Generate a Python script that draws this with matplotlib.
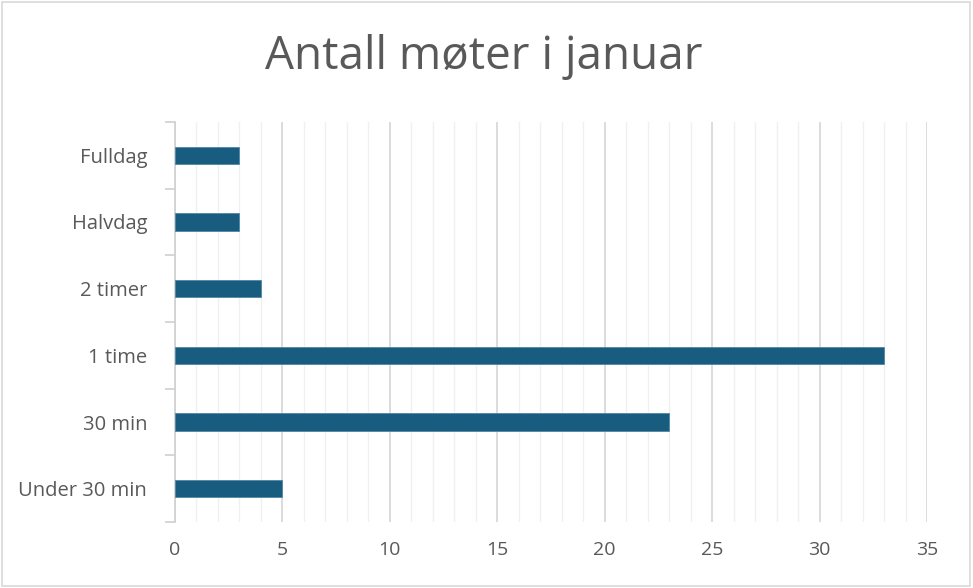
import matplotlib
matplotlib.use("Agg")
import matplotlib.pyplot as plt
from matplotlib.patches import Rectangle
from matplotlib.ticker import MultipleLocator, FixedLocator

categories = ["Under 30 min", "30 min", "1 time", "2 timer", "Halvdag", "Fulldag"]
values = [5, 23, 33, 4, 3, 3]
xticks = [0, 5, 10, 15, 20, 25, 30, 35]

plt.rcParams['font.family'] = ['Open Sans', 'DejaVu Sans']
fig = plt.figure(figsize=(9.73, 5.88), dpi=100)
ax = fig.add_axes([175/973, 1-522/588, (927-175)/973, (522-122)/588])

y = list(range(len(categories)))
ax.barh(y, values, height=0.26, color="#185d80", edgecolor="#4f87a5", linewidth=0.6, zorder=3)

ax.set_xlim(0, 35)
ax.set_ylim(-0.5, len(categories)-0.5)
ax.xaxis.set_major_locator(FixedLocator(xticks))
ax.xaxis.set_minor_locator(MultipleLocator(1))
ax.grid(axis='x', which='major', color="#d9d9d9", linewidth=1.3, zorder=0)
ax.grid(axis='x', which='minor', color="#f0f0f0", linewidth=1.0, zorder=0)
ax.tick_params(axis='x', which='both', length=0, labelsize=14, labelcolor="#595959", pad=14)

ax.set_yticks(y)
ax.set_yticklabels(categories)
ax.yaxis.set_minor_locator(FixedLocator([i - 0.5 for i in range(len(categories)+1)]))
ax.tick_params(axis='y', which='major', length=0, labelsize=14.5, labelcolor="#595959", pad=20)
ax.tick_params(axis='y', which='minor', length=7, color="#d0d0d0", width=1.2)

for s in ['top', 'right', 'bottom']:
    ax.spines[s].set_visible(False)
ax.spines['left'].set_color("#d0d0d0")
ax.spines['left'].set_linewidth(1.2)

fig.text(484/973, 1-57/588, "Antall møter i januar", ha='center', va='center', fontsize=33, color="#595959")
fig.patches.append(Rectangle((0.002, 0.003), 0.995, 0.994, transform=fig.transFigure, fill=False, edgecolor="#d9d9d9", linewidth=1.2))

fig.savefig("out.png", dpi=100)
